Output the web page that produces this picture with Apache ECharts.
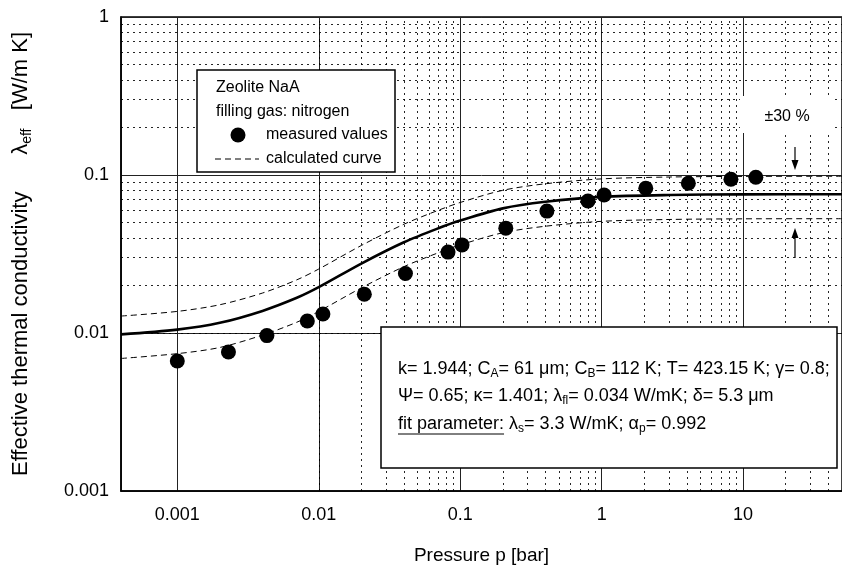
<!DOCTYPE html>
<html><head><meta charset="utf-8">
<script src="https://cdn.jsdelivr.net/npm/echarts@6/dist/echarts.min.js"></script>
<style>html,body{margin:0;padding:0;background:#fff}#c{width:842px;height:572px}</style>
</head><body><div id="c"></div><script>
// ---- data ----
const pressureMeasured = [0.001,0.0023,0.0043,0.0083,0.0107,0.021,0.041,0.082,0.103,0.21,0.41,0.8,1.04,2.05,4.1,8.2,12.3];
const lambdaMeasured   = [0.00665,0.00758,0.00963,0.0119,0.0132,0.0176,0.0238,0.0325,0.0361,0.0461,0.0591,0.0684,0.0747,0.0824,0.0886,0.094,0.0967];
const pressureCurve = [0.0004,0.001,0.002,0.004,0.007,0.01,0.02,0.04,0.07,0.1,0.2,0.4,1,3,10,50];
const lambdaCalc    = [0.0098,0.0105,0.0116,0.0138,0.0167,0.0195,0.0275,0.0375,0.046,0.0515,0.0615,0.0677,0.0727,0.0747,0.0754,0.0755];
const lambdaUpper   = [0.0128,0.0137,0.0151,0.0179,0.0217,0.0254,0.0358,0.0488,0.0598,0.067,0.080,0.088,0.0945,0.0971,0.098,0.0982];
const lambdaLower   = [0.0069,0.0074,0.0081,0.0097,0.0117,0.0137,0.0193,0.0263,0.0322,0.0361,0.0431,0.0474,0.0509,0.0523,0.0528,0.0529];
const xTickLabels = ['0.001','0.01','0.1','1','10'];
const yTickLabels = ['0.001','0.01','0.1','1'];
const xRange = [0.0004, 50];
const yRange = [0.001, 1];

// minor grid positions (2..9 of each decade)
function minorTicks(lo, hi){
  const out=[];
  for(let e=-5;e<=2;e++){for(let k=2;k<=9;k++){const v=+(k*Math.pow(10,e)).toPrecision(6); if(v>lo*1.0001 && v<hi*0.9999) out.push(v);}}
  return out;
}
const xMinor = minorTicks(xRange[0], xRange[1]);
const yMinor = minorTicks(yRange[0], yRange[1]);

const FONT = '"Liberation Sans", Arial, Helvetica, sans-serif';
const zip = (a,b)=>a.map((v,i)=>[v,b[i]]);
function fmt(list){return v=>{const s=list.find(t=>Math.abs(parseFloat(t)-v)/v<1e-6);return s||'';};}
function textWidth(t, size){const c=document.createElement('canvas').getContext('2d');c.font=size+'px '+FONT;return c.measureText(t).width;}

const boxRich = {
  n:{fontSize:18,fontFamily:FONT,fill:'#000',color:'#000',lineHeight:22},
  s:{fontSize:12,fontFamily:FONT,fill:'#000',color:'#000',lineHeight:12,verticalAlign:'bottom'}
};

const chart = echarts.init(document.getElementById('c'), null, {renderer:'canvas'});
chart.setOption({
  animation:false,
  backgroundColor:'#fff',
  textStyle:{fontFamily:FONT},
  grid:{left:121,right:-6,top:17,bottom:81,show:true,borderColor:'#000',borderWidth:1.5,backgroundColor:'transparent'},
  xAxis:{
    type:'log',logBase:10,min:xRange[0],max:xRange[1],
    axisLine:{show:true,lineStyle:{color:'#000',width:1.5}},
    axisTick:{show:false},
    axisLabel:{formatter:fmt(xTickLabels),color:'#000',fontSize:18,margin:15,fontFamily:FONT,showMinLabel:false,showMaxLabel:false},
    splitLine:{show:true,lineStyle:{color:'#222',width:1}},
    name:'Pressure p [bar]',nameLocation:'middle',nameGap:55,
    nameTextStyle:{color:'#000',fontSize:19,fontFamily:FONT}
  },
  yAxis:{
    type:'log',logBase:10,min:yRange[0],max:yRange[1],
    axisLine:{show:true,lineStyle:{color:'#000',width:1.5}},
    axisTick:{show:false},
    axisLabel:{formatter:fmt(yTickLabels),color:'#000',fontSize:18,margin:12,fontFamily:FONT},
    splitLine:{show:true,lineStyle:{color:'#222',width:1}},
    name:'{t|Effective thermal conductivity      λ}{s|eff}{t|   [W/m K]}',
    nameLocation:'middle',nameGap:87,nameRotate:90,
    nameTextStyle:{rich:{
      t:{fontSize:22,color:'#000',fontFamily:FONT,lineHeight:26},
      s:{fontSize:14,color:'#000',fontFamily:FONT,lineHeight:14,verticalAlign:'bottom'}
    }}
  },
  series:[
    {type:'line',data:[],silent:true,z:1,
     markLine:{silent:true,symbol:'none',label:{show:false},animation:false,
       lineStyle:{color:'#000',width:1,type:[2,4],opacity:0.85},
       data:[...xMinor.map(v=>({xAxis:v})),...yMinor.map(v=>({yAxis:v}))]}},
    {name:'upper',type:'line',data:zip(pressureCurve,lambdaUpper),smooth:0.3,showSymbol:false,
     lineStyle:{color:'#000',width:1,type:[6,4]},z:3},
    {name:'lower',type:'line',data:zip(pressureCurve,lambdaLower),smooth:0.3,showSymbol:false,
     lineStyle:{color:'#000',width:1,type:[6,4]},z:3},
    {name:'calculated',type:'line',data:zip(pressureCurve,lambdaCalc),smooth:0.3,showSymbol:false,
     lineStyle:{color:'#000',width:2.6},z:4},
    {name:'measured values',type:'scatter',data:zip(pressureMeasured,lambdaMeasured),
     symbol:'circle',symbolSize:15,itemStyle:{color:'#000',opacity:1},z:5}
  ],
  graphic:[
    // legend box
    {type:'rect',shape:{x:197,y:70,width:198,height:102},style:{fill:'#fff',stroke:'#000',lineWidth:1.5},z:100},
    {type:'text',x:216,y:88,style:{text:'Zeolite NaA',font:'16px '+FONT,fill:'#000',textVerticalAlign:'middle'},z:101},
    {type:'text',x:216,y:112,style:{text:'filling gas: nitrogen',font:'16px '+FONT,fill:'#000',textVerticalAlign:'middle'},z:101},
    {type:'circle',shape:{cx:238,cy:135,r:7.5},style:{fill:'#000'},z:101},
    {type:'text',x:266,y:135,style:{text:'measured values',font:'16px '+FONT,fill:'#000',textVerticalAlign:'middle'},z:101},
    {type:'line',shape:{x1:215,y1:159,x2:259,y2:159},style:{stroke:'#000',lineWidth:1,lineDash:[6,4]},z:101},
    {type:'text',x:266,y:159,style:{text:'calculated curve',font:'16px '+FONT,fill:'#000',textVerticalAlign:'middle'},z:101},
    // ±30 % label
    {type:'rect',shape:{x:740,y:96,width:95,height:37},style:{fill:'#fff'},z:100},
    {type:'text',x:787,y:117,style:{text:'±30 %',font:'16px '+FONT,fill:'#000',textAlign:'center',textVerticalAlign:'middle'},z:101},
    {type:'line',shape:{x1:795,y1:147,x2:795,y2:163},style:{stroke:'#000',lineWidth:1.2},z:101},
    {type:'polygon',shape:{points:[[791.5,160],[798.5,160],[795,170]]},style:{fill:'#000'},z:101},
    {type:'line',shape:{x1:795,y1:258,x2:795,y2:235},style:{stroke:'#000',lineWidth:1.2},z:101},
    {type:'polygon',shape:{points:[[791.5,238],[798.5,238],[795,228]]},style:{fill:'#000'},z:101},
    // parameter box
    {type:'rect',shape:{x:381,y:327,width:456,height:141},style:{fill:'#fff',stroke:'#000',lineWidth:1.5},z:100},
    {type:'text',x:398,y:369,z:101,style:{
      text:'{n|k= 1.944; C}{s|A}{n|= 61 μm; C}{s|B}{n|= 112 K; T= 423.15 K; γ= 0.8;}',
      textVerticalAlign:'middle',rich:boxRich}},
    {type:'text',x:398,y:396,z:101,style:{
      text:'{n|Ψ= 0.65; κ= 1.401; λ}{s|fl}{n|= 0.034 W/mK; δ= 5.3 μm}',
      textVerticalAlign:'middle',rich:boxRich}},
    {type:'text',x:398,y:424,z:101,style:{
      text:'{n|fit parameter: λ}{s|s}{n|= 3.3 W/mK; α}{s|p}{n|= 0.992}',
      textVerticalAlign:'middle',rich:boxRich}},
    {type:'line',shape:{x1:398,y1:434,x2:398+textWidth('fit parameter:',18),y2:434},style:{stroke:'#000',lineWidth:1},z:101}
  ]
});
</script></body></html>
